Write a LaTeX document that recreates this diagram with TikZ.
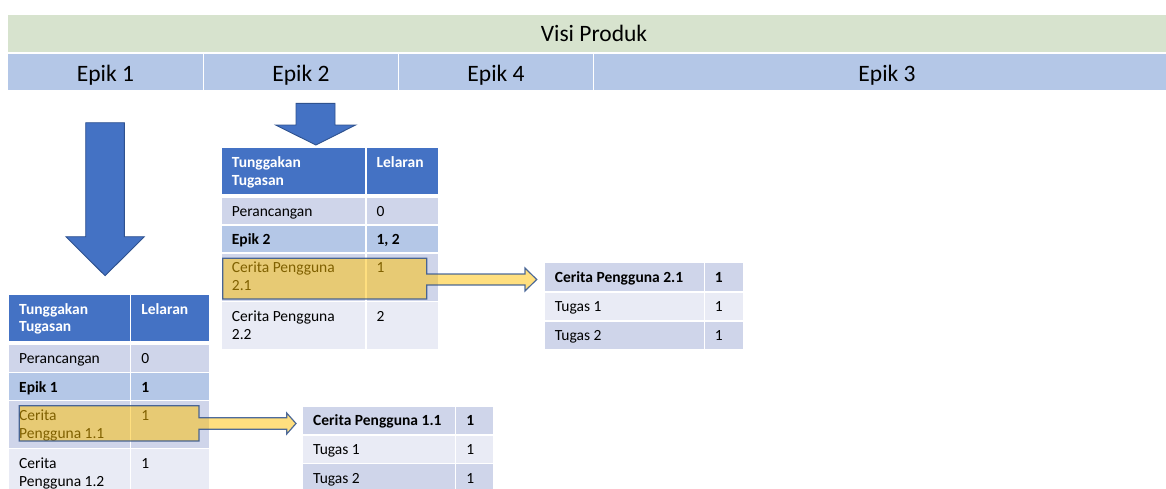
\documentclass[tikz,border=0pt]{standalone}
\usepackage{fontspec}
\setmainfont{Carlito}
\usetikzlibrary{calc}

\definecolor{visigreen}{HTML}{D7E3CE}
\definecolor{epikblue}{HTML}{B4C7E7}
\definecolor{hdrblue}{HTML}{4472C4}
\definecolor{edgeblue}{HTML}{2F528F}
\definecolor{rowmid}{HTML}{CFD5EA}
\definecolor{rowlight}{HTML}{E9EBF5}
\definecolor{gold}{HTML}{FFC000}

\tikzset{
  cellbox/.style={rectangle, anchor=north west, inner sep=0pt, outer sep=0pt, draw=none},
  celltext/.style={inner sep=0pt, anchor=base west, font=\fontsize{15.5}{17.7}\selectfont, text=black},
  hdrtext/.style={celltext, text=white, font=\fontsize{15.5}{17.7}\selectfont\bfseries},
  boldtext/.style={celltext, font=\fontsize{15.5}{17.7}\selectfont\bfseries},
  bartext/.style={inner sep=0pt, anchor=base, font=\fontsize{23.5}{28}\selectfont, text=black},
  downarrow/.style={fill=hdrblue, draw=edgeblue, line width=0.9pt, line join=miter},
  marker/.style={fill=gold, fill opacity=0.5, draw=edgeblue, draw opacity=0.85, line width=1.2pt, line join=miter},
}

% cell: name, x1, y1, x2, y2, fill colour
\newcommand\cellrect[6]{\node[cellbox, fill=#6, minimum width={(#4)-(#2)}, minimum height={(#5)-(#3)}] (#1) at (#2,#3) {};}
% text in a cell: name, style, cell, baseline drop, text
\newcommand\celltxt[5]{\node[#2] (#1) at ([xshift=9.7pt,yshift=-#4pt]#3.north west) {#5};}

\begin{document}
\begin{tikzpicture}[x=1pt,y=-1pt]
\useasboundingbox (0,0) rectangle (1166,488);
\clip (0,0) rectangle (1166,488);

% ---- product vision and epic bars
\cellrect{visi}{8}{15}{1180}{51.7}{visigreen}
\cellrect{ep1}{8}{54}{202.8}{90}{epikblue}
\cellrect{ep2}{204.2}{54}{397.8}{90}{epikblue}
\cellrect{ep4}{399.2}{54}{592.8}{90}{epikblue}
\cellrect{ep3}{594.2}{54}{1180}{90}{epikblue}
\node[bartext] (visitxt) at (594,41.7) {Visi Produk};
\node[bartext] (ep1txt) at (105.4,81) {Epik 1};
\node[bartext] (ep2txt) at (301,81) {Epik 2};
\node[bartext] (ep4txt) at (496,81) {Epik 4};
\node[bartext] (ep3txt) at (887,81) {Epik 3};

% ---- block arrows pointing down to the backlogs
\draw[downarrow] (85.7,122.7) -- (124.3,122.7) -- (124.3,236.7) -- (144.3,236.7)
  -- (105.1,275.7) -- (66,236.7) -- (85.7,236.7) -- cycle;
\draw[downarrow] (296,103.3) -- (335,103.3) -- (335,125) -- (355.7,125)
  -- (315.8,145) -- (275.7,125) -- (296,125) -- cycle;

% ---- backlog for Epik 1
\cellrect{a0l}{9.3}{295}{130}{341}{hdrblue}
\cellrect{a0r}{131.4}{295}{209}{341}{hdrblue}
\cellrect{a1l}{9.3}{344.5}{130}{371.5}{rowmid}
\cellrect{a1r}{131.4}{344.5}{209}{371.5}{rowmid}
\cellrect{a2l}{9.3}{373}{130}{399.8}{epikblue}
\cellrect{a2r}{131.4}{373}{209}{399.8}{epikblue}
\cellrect{a3l}{9.3}{401.3}{130}{447.8}{rowmid}
\cellrect{a3r}{131.4}{401.3}{209}{447.8}{rowmid}
\cellrect{a4l}{9.3}{449.3}{130}{496}{rowlight}
\cellrect{a4r}{131.4}{449.3}{209}{496}{rowlight}
\celltxt{a0la}{hdrtext}{a0l}{19}{Tunggakan}
\celltxt{a0lb}{hdrtext}{a0l}{36.7}{Tugasan}
\celltxt{a0ra}{hdrtext}{a0r}{19}{Lelaran}
\celltxt{a1la}{celltext}{a1l}{19}{Perancangan}
\celltxt{a1ra}{celltext}{a1r}{19}{0}
\celltxt{a2la}{boldtext}{a2l}{19}{Epik 1}
\celltxt{a2ra}{boldtext}{a2r}{19}{1}
\celltxt{a3la}{celltext}{a3l}{19}{Cerita}
\celltxt{a3lb}{celltext}{a3l}{36.7}{Pengguna 1.1}
\celltxt{a3ra}{celltext}{a3r}{19}{1}
\celltxt{a4la}{celltext}{a4l}{19}{Cerita}
\celltxt{a4lb}{celltext}{a4l}{36.7}{Pengguna 1.2}
\celltxt{a4ra}{celltext}{a4r}{19}{1}

% ---- backlog for Epik 2
\cellrect{b0l}{222}{148.3}{365.3}{194.3}{hdrblue}
\cellrect{b0r}{366.7}{148.3}{438}{194.3}{hdrblue}
\cellrect{b1l}{222}{197.7}{365.3}{224.3}{rowmid}
\cellrect{b1r}{366.7}{197.7}{438}{224.3}{rowmid}
\cellrect{b2l}{222}{225.7}{365.3}{252.3}{epikblue}
\cellrect{b2r}{366.7}{225.7}{438}{252.3}{epikblue}
\cellrect{b3l}{222}{253.7}{365.3}{301}{rowmid}
\cellrect{b3r}{366.7}{253.7}{438}{301}{rowmid}
\cellrect{b4l}{222}{302.4}{365.3}{349}{rowlight}
\cellrect{b4r}{366.7}{302.4}{438}{349}{rowlight}
\celltxt{b0la}{hdrtext}{b0l}{19}{Tunggakan}
\celltxt{b0lb}{hdrtext}{b0l}{36.7}{Tugasan}
\celltxt{b0ra}{hdrtext}{b0r}{19}{Lelaran}
\celltxt{b1la}{celltext}{b1l}{19}{Perancangan}
\celltxt{b1ra}{celltext}{b1r}{19}{0}
\celltxt{b2la}{boldtext}{b2l}{19}{Epik 2}
\celltxt{b2ra}{boldtext}{b2r}{19}{1, 2}
\celltxt{b3la}{celltext}{b3l}{19}{Cerita Pengguna}
\celltxt{b3lb}{celltext}{b3l}{36.7}{2.1}
\celltxt{b3ra}{celltext}{b3r}{19}{1}
\celltxt{b4la}{celltext}{b4l}{19}{Cerita Pengguna}
\celltxt{b4lb}{celltext}{b4l}{36.7}{2.2}
\celltxt{b4ra}{celltext}{b4r}{19}{2}

% ---- tasks of user story 2.1
\cellrect{c1l}{545}{263.3}{703.6}{291}{rowmid}
\cellrect{c1r}{705}{263.3}{743.3}{291}{rowmid}
\cellrect{c2l}{545}{292.5}{703.6}{320.3}{rowlight}
\cellrect{c2r}{705}{292.5}{743.3}{320.3}{rowlight}
\cellrect{c3l}{545}{321.7}{703.6}{348.5}{rowmid}
\cellrect{c3r}{705}{321.7}{743.3}{348.5}{rowmid}
\celltxt{c1la}{boldtext}{c1l}{19.2}{Cerita Pengguna 2.1}
\celltxt{c1ra}{boldtext}{c1r}{19.2}{1}
\celltxt{c2la}{celltext}{c2l}{19.2}{Tugas 1}
\celltxt{c2ra}{celltext}{c2r}{19.2}{1}
\celltxt{c3la}{celltext}{c3l}{19.2}{Tugas 2}
\celltxt{c3ra}{celltext}{c3r}{19.2}{1}

% ---- tasks of user story 1.1
\cellrect{d1l}{303.3}{406.7}{455}{434.3}{rowmid}
\cellrect{d1r}{456.4}{406.7}{493.3}{434.3}{rowmid}
\cellrect{d2l}{303.3}{435.7}{455}{463}{rowlight}
\cellrect{d2r}{456.4}{435.7}{493.3}{463}{rowlight}
\cellrect{d3l}{303.3}{464.4}{455}{492}{rowmid}
\cellrect{d3r}{456.4}{464.4}{493.3}{492}{rowmid}
\celltxt{d1la}{boldtext}{d1l}{19.2}{Cerita Pengguna 1.1}
\celltxt{d1ra}{boldtext}{d1r}{19.2}{1}
\celltxt{d2la}{celltext}{d2l}{19.2}{Tugas 1}
\celltxt{d2ra}{celltext}{d2r}{19.2}{1}
\celltxt{d3la}{celltext}{d3l}{19.2}{Tugas 2}
\celltxt{d3ra}{celltext}{d3r}{19.2}{1}

% ---- highlighted user stories with arrows to their task lists
\draw[marker] (222.7,258.3) -- (426.7,258.3) -- (426.7,274) -- (525,274) -- (525,268)
  -- (536.7,279.5) -- (525,291) -- (525,285) -- (426.7,285) -- (426.7,299)
  -- (222.7,299) -- cycle;
\draw[marker] (19.3,405.7) -- (199,405.7) -- (199,417.8) -- (286.7,417.8) -- (286.7,413)
  -- (296,423.5) -- (286.7,434) -- (286.7,429.3) -- (199,429.3) -- (199,441)
  -- (19.3,441) -- cycle;
\end{tikzpicture}
\end{document}
